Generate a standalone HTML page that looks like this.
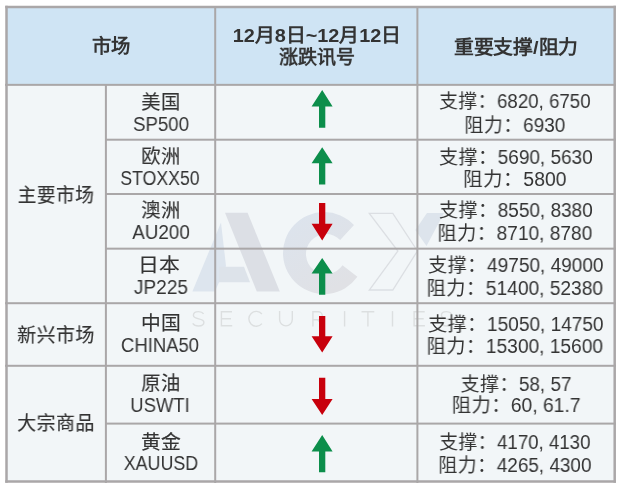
<!DOCTYPE html>
<html lang="zh-CN"><head><meta charset="utf-8">
<style>
html,body{margin:0;padding:0;background:#fff;}
body{width:624px;height:489px;position:relative;overflow:hidden;font-family:"Liberation Sans",sans-serif;color:#333;}
.bg{position:absolute;}
.ln{position:absolute;background:#aaa8a8;}
.t{position:absolute;white-space:nowrap;line-height:1;transform-origin:50% 50%;will-change:transform;}
.h{font-weight:bold;}
.k{-webkit-text-stroke:0.15px #333;}
</style></head><body>
<div class="bg" style="left:6px;top:6px;width:609px;height:79px;background:#cfe4f4"></div>
<div class="bg" style="left:6px;top:85px;width:609px;height:397px;background:#f2f6f8"></div>
<svg style="position:absolute;left:0;top:0" width="624" height="489">
<!-- A -->
<polygon points="225,212.7 247.6,212.7 279.8,291.6 256.8,291.6" fill="#dcdfe5"/>
<polygon points="221,222.5 192.4,291.6 215,291.6 226,266" fill="#dde5ee"/>
<polygon points="219,266.7 244,266.7 250,282.3 219,282.3" fill="#dde3ea"/>
<!-- C -->
<defs><linearGradient id="cg" x1="0" y1="0" x2="0.6" y2="1"><stop offset="0" stop-color="#dce4ee"/><stop offset="1" stop-color="#e0e1e5"/></linearGradient></defs><path d="M 354 225.1 A 41 41 0 1 0 357.4 276.8 L 342.5 265.3 A 20 20 0 1 1 340.2 240 Z" fill="url(#cg)"/>
<!-- X -->
<polygon points="369.3,213.3 392.8,213.3 417.4,251 392.8,290 369.3,290 397.9,251" fill="none" stroke="#dcdfe3" stroke-width="1.3"/>
<polygon points="427,213 444,213 426.5,246 415.4,230" fill="#dde4ec"/>
<!-- SECURITIES -->
<g fill="none" stroke="#dcdfe0" stroke-width="1.4" stroke-linecap="butt">
<path d="M 203.6 313.8 C 202.5 312.1 200.9 311.6 198.5 311.6 C 195.4 311.6 193.4 313.2 193.4 315.3 C 193.4 320.2 203.9 317.6 203.9 322.3 C 203.9 324.7 201.7 326 198.5 326 C 195.8 326 193.8 325 192.7 323.3"/>
<path d="M 232 311.8 H 221.4 V 325.8 H 232.2 M 221.4 318.8 H 231"/>
<path d="M 261.9 314.0 A 7.4 7.4 0 1 0 261.9 323.6"/>
<path d="M 279.6 311.1 V 319.5 A 6.35 6.35 0 0 0 292.3 319.5 V 311.1"/>
<path d="M 312.9 326.5 V 311.8 H 318.3 A 4 4 0 0 1 318.3 319.8 H 312.9 M 317.8 319.8 L 323.8 326.5"/>
<path d="M 344.6 311.1 V 326.5"/>
<path d="M 361.5 311.8 H 374.3 M 367.9 311.8 V 326.5"/>
<path d="M 392.5 311.1 V 326.5"/>
<path d="M 424.7 311.8 H 414.1 V 325.8 H 424.9 M 414.1 318.8 H 423.7"/>
<path d="M 451.6 313.8 C 450.5 312.1 448.9 311.6 446.5 311.6 C 443.4 311.6 441.4 313.2 441.4 315.3 C 441.4 320.2 451.9 317.6 451.9 322.3 C 451.9 324.7 449.7 326 446.5 326 C 443.8 326 441.8 325 440.7 323.3"/>
</g>
</svg>
<svg style="position:absolute;left:0;top:0" width="624" height="489"><g fill="#aaa7a8"><rect x="5.25" y="5.75" width="610.7" height="2.5"/><rect x="5.25" y="480.25" width="610.7" height="2.5"/><rect x="5.25" y="5.75" width="2.5" height="477"/><rect x="613.45" y="5.75" width="2.5" height="477"/><rect x="5" y="83.85" width="611" height="2"/><rect x="5" y="302.20" width="611" height="2"/><rect x="5" y="364.80" width="611" height="2"/><rect x="105.9" y="138.70" width="510.1" height="2"/><rect x="105.9" y="193.00" width="510.1" height="2"/><rect x="105.9" y="247.66" width="510.1" height="2"/><rect x="105.9" y="422.60" width="510.1" height="2"/><rect x="104.90" y="84" width="2" height="399"/><rect x="214.20" y="6" width="2" height="477"/><rect x="416.40" y="6" width="2" height="477"/></g></svg>
<div class="t h" style="left:-39.30px;top:37.05px;width:300px;text-align:center;font-size:19px;transform:scale(1.0170,1.0000);">市场</div>
<div class="t h" style="left:166.60px;top:26.00px;width:300px;text-align:center;font-size:19px;transform:scale(1.0459,1.0000);">12月8日~12月12日</div>
<div class="t h" style="left:166.80px;top:47.70px;width:300px;text-align:center;font-size:19px;transform:scale(0.9976,1.0000);">涨跌讯号</div>
<div class="t h" style="left:365.70px;top:37.85px;width:300px;text-align:center;font-size:19px;transform:scale(1.0450,1.0000);">重要支撑/阻力</div>
<div class="t k" style="left:-94.00px;top:185.65px;width:300px;text-align:center;font-size:19.5px;transform:scale(0.9598,1.0000);">主要市场</div>
<div class="t k" style="left:-93.70px;top:326.25px;width:300px;text-align:center;font-size:19.5px;transform:scale(0.9701,1.0000);">新兴市场</div>
<div class="t k" style="left:-93.70px;top:414.45px;width:300px;text-align:center;font-size:19.5px;transform:scale(0.9701,1.0000);">大宗商品</div>
<div class="t k" style="left:11.30px;top:92.65px;width:300px;text-align:center;font-size:19.5px;transform:scale(0.9877,1.0000);">美国</div>
<div class="t" style="left:10.80px;top:114.50px;width:300px;text-align:center;font-size:19.5px;transform:scale(0.9562,1.0000);">SP500</div>
<div class="t k" style="left:11.30px;top:146.90px;width:300px;text-align:center;font-size:19.5px;transform:scale(0.9877,1.0000);">欧洲</div>
<div class="t" style="left:9.80px;top:169.00px;width:300px;text-align:center;font-size:19.5px;transform:scale(0.9083,1.0000);">STOXX50</div>
<div class="t k" style="left:11.30px;top:200.65px;width:300px;text-align:center;font-size:19.5px;transform:scale(0.9877,1.0000);">澳洲</div>
<div class="t" style="left:10.80px;top:222.75px;width:300px;text-align:center;font-size:19.5px;transform:scale(0.9679,1.0000);">AU200</div>
<div class="t k" style="left:8.80px;top:256.10px;width:300px;text-align:center;font-size:19.5px;transform:scale(1.0700,1.0000);">日本</div>
<div class="t" style="left:10.60px;top:277.95px;width:300px;text-align:center;font-size:19.5px;transform:scale(0.9763,1.0000);">JP225</div>
<div class="t k" style="left:10.80px;top:314.05px;width:300px;text-align:center;font-size:19.5px;transform:scale(1.0144,1.0000);">中国</div>
<div class="t" style="left:10.30px;top:335.90px;width:300px;text-align:center;font-size:19.5px;transform:scale(0.9471,1.0000);">CHINA50</div>
<div class="t k" style="left:11.30px;top:374.30px;width:300px;text-align:center;font-size:19.5px;transform:scale(0.9877,1.0000);">原油</div>
<div class="t" style="left:10.40px;top:395.90px;width:300px;text-align:center;font-size:19.5px;transform:scale(0.9453,1.0000);">USWTI</div>
<div class="t k" style="left:10.80px;top:432.50px;width:300px;text-align:center;font-size:19.5px;transform:scale(1.0144,1.0000);">黄金</div>
<div class="t" style="left:10.80px;top:454.20px;width:300px;text-align:center;font-size:19.5px;transform:scale(0.9138,1.0000);">XAUUSD</div>
<div class="t" style="left:365.40px;top:92.20px;width:300px;text-align:center;font-size:19.5px;transform:scale(0.9596,1.0000);">支撑：6820, 6750</div>
<div class="t" style="left:364.90px;top:116.00px;width:300px;text-align:center;font-size:19.5px;transform:scale(0.9733,1.0000);">阻力：6930</div>
<div class="t" style="left:366.10px;top:147.65px;width:300px;text-align:center;font-size:19.5px;transform:scale(0.9737,1.0000);">支撑：5690, 5630</div>
<div class="t" style="left:364.90px;top:169.70px;width:300px;text-align:center;font-size:19.5px;transform:scale(0.9970,1.0000);">阻力：5800</div>
<div class="t" style="left:366.10px;top:201.45px;width:300px;text-align:center;font-size:19.5px;transform:scale(0.9737,1.0000);">支撑：8550, 8380</div>
<div class="t" style="left:364.50px;top:223.70px;width:300px;text-align:center;font-size:19.5px;transform:scale(0.9806,1.0000);">阻力：8710, 8780</div>
<div class="t" style="left:366.10px;top:255.85px;width:300px;text-align:center;font-size:19.5px;transform:scale(0.9764,1.0000);">支撑：49750, 49000</div>
<div class="t" style="left:364.60px;top:278.65px;width:300px;text-align:center;font-size:19.5px;transform:scale(0.9819,1.0000);">阻力：51400, 52380</div>
<div class="t" style="left:366.10px;top:315.10px;width:300px;text-align:center;font-size:19.5px;transform:scale(0.9764,1.0000);">支撑：15050, 14750</div>
<div class="t" style="left:364.60px;top:336.55px;width:300px;text-align:center;font-size:19.5px;transform:scale(0.9819,1.0000);">阻力：15300, 15600</div>
<div class="t" style="left:365.60px;top:374.95px;width:300px;text-align:center;font-size:19.5px;transform:scale(0.9715,1.0000);">支撑：58, 57</div>
<div class="t" style="left:366.00px;top:396.30px;width:300px;text-align:center;font-size:19.5px;transform:scale(0.9883,1.0000);">阻力：60, 61.7</div>
<div class="t" style="left:365.40px;top:433.10px;width:300px;text-align:center;font-size:19.5px;transform:scale(0.9577,1.0000);">支撑：4170, 4130</div>
<div class="t" style="left:365.40px;top:456.45px;width:300px;text-align:center;font-size:19.5px;transform:scale(0.9703,1.0000);">阻力：4265, 4300</div>
<svg style="position:absolute;left:0;top:0" width="624" height="489">
<g fill="#0c8e4b">
<polygon points="322.2,90.1 332.6,106.4 325.3,106.4 325.3,127.7 319,127.7 319,106.4 311.6,106.4"/>
<polygon points="322.2,147.2 332.6,163.2 325.3,163.2 325.3,184.4 319,184.4 319,163.2 311.6,163.2"/>
<polygon points="322.2,257.9 332.6,273.6 325.3,273.6 325.3,294.7 319,294.7 319,273.6 311.6,273.6"/>
<polygon points="322.2,434.9 332.6,451.5 325.3,451.5 325.3,472.3 319,472.3 319,451.5 311.6,451.5"/>
</g>
<g fill="#c8000c">
<polygon points="322.2,240.4 332.6,223.8 325.3,223.8 325.3,203 319,203 319,223.8 311.6,223.8"/>
<polygon points="322.2,352.6 332.6,336.2 325.3,336.2 325.3,315.9 319,315.9 319,336.2 311.6,336.2"/>
<polygon points="322.2,415 332.6,398.9 325.3,398.9 325.3,377.7 319,377.7 319,398.9 311.6,398.9"/>
</g>
</svg>
</body></html>
